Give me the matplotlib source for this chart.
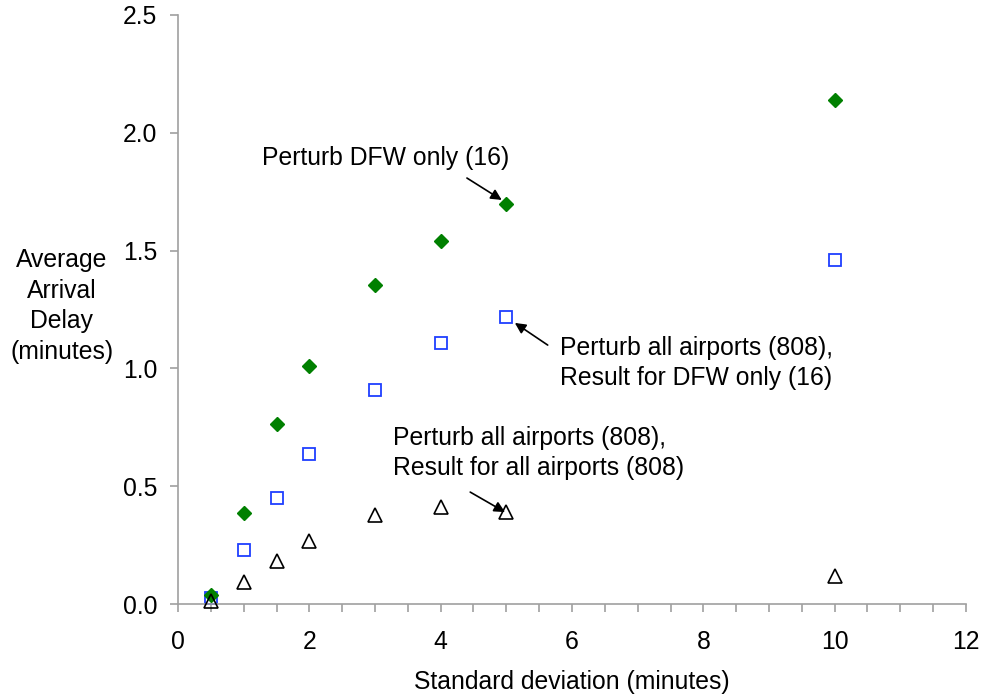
import matplotlib
matplotlib.use("Agg")
import matplotlib.pyplot as plt
from matplotlib.ticker import MultipleLocator, FormatStrFormatter

plt.rcParams['font.family'] = ['Liberation Sans', 'DejaVu Sans']

std_dev = [0.5, 1, 1.5, 2, 3, 4, 5, 10]
dfw_only = [0.04, 0.386, 0.764, 1.01, 1.354, 1.541, 1.698, 2.139]
all_result_dfw = [0.025, 0.229, 0.45, 0.637, 0.908, 1.108, 1.218, 1.46]
all_result_all = [0.012, 0.093, 0.183, 0.267, 0.378, 0.41, 0.39, 0.119]

FS = 17.8

fig = plt.figure(figsize=(9.85, 6.98), dpi=100)
ax = fig.add_axes([178/985, 1-604/698, (966-178)/985, (604-15)/698])

ax.plot(std_dev, dfw_only, linestyle='none', marker='D', markersize=7.5,
        color='#008000', markeredgecolor='#008000', clip_on=False, zorder=3)
ax.plot(std_dev, all_result_dfw, linestyle='none', marker='s', markersize=9,
        markerfacecolor='white', markeredgecolor='#1f3fff', markeredgewidth=1.3,
        clip_on=False, zorder=2)
ax.plot(std_dev, all_result_all, linestyle='none', marker='^', markersize=9.5,
        markerfacecolor='none', markeredgecolor='black', markeredgewidth=1.2,
        clip_on=False, zorder=4)

ax.set_xlim(0, 12)
ax.set_ylim(0, 2.5)
ax.xaxis.set_major_locator(MultipleLocator(2))
ax.xaxis.set_minor_locator(MultipleLocator(0.5))
ax.yaxis.set_major_locator(MultipleLocator(0.5))
ax.xaxis.set_major_formatter(FormatStrFormatter('%d'))
ax.yaxis.set_major_formatter(FormatStrFormatter('%.1f'))

for s in ['top', 'right']:
    ax.spines[s].set_visible(False)
for s in ['left', 'bottom']:
    ax.spines[s].set_color('#a0a0a0')
    ax.spines[s].set_linewidth(1.2)

ax.tick_params(axis='both', which='both', direction='out', color='#a0a0a0',
               width=1.2, labelsize=FS, labelcolor='black')
ax.tick_params(axis='x', which='major', length=6, pad=13)
ax.tick_params(axis='x', which='minor', length=6)
ax.tick_params(axis='y', which='major', length=6, pad=9)

ax.set_xlabel('Standard deviation (minutes)', fontsize=FS, labelpad=11)
fig.text(62/985, 1-306/698, 'Average\nArrival\nDelay\n(minutes)', ha='center',
         va='center', fontsize=FS, linespacing=1.36)

arrow = dict(arrowstyle='-|>', color='black', lw=1.2, mutation_scale=16,
             shrinkA=0, shrinkB=0)
ax.text(1.28, 1.893, 'Perturb DFW only (16)', fontsize=FS, ha='left', va='center')
ax.annotate('', xy=(4.93, 1.715), xytext=(4.40, 1.808), arrowprops=arrow)

ax.text(5.82, 1.023, 'Perturb all airports (808),\nResult for DFW only (16)',
        fontsize=FS, ha='left', va='center', linespacing=1.36)
ax.annotate('', xy=(5.13, 1.193), xytext=(5.63, 1.099), arrowprops=arrow)

ax.text(3.27, 0.641, 'Perturb all airports (808),\nResult for all airports (808)',
        fontsize=FS, ha='left', va='center', linespacing=1.36)
ax.annotate('', xy=(4.98, 0.39), xytext=(4.45, 0.475), arrowprops=arrow)

fig.savefig('out.png', dpi=100)
